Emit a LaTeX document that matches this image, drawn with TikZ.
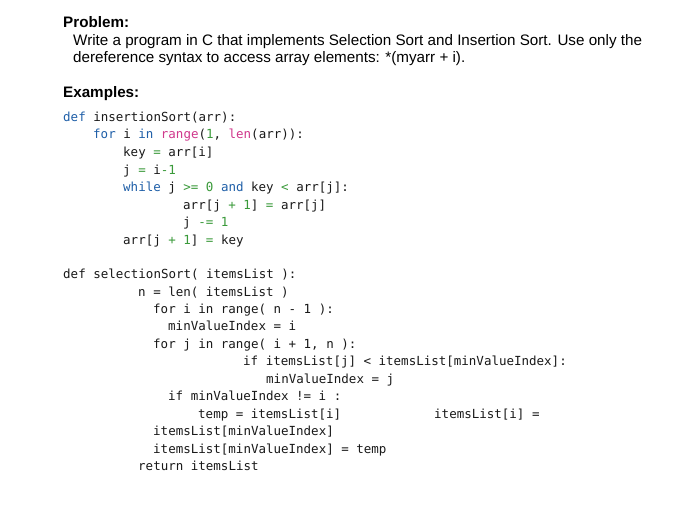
\documentclass[tikz,border=0pt]{standalone}
\usepackage{fontspec}
\setmainfont{Liberation Sans}
\setmonofont{DejaVu Sans Mono}
\definecolor{kw}{HTML}{1F5FA8}
\definecolor{fn}{HTML}{D0388C}
\definecolor{num}{HTML}{3A9A3A}
\newcommand{\K}[1]{\textcolor{kw}{#1}}
\newcommand{\F}[1]{\textcolor{fn}{#1}}
\newcommand{\N}[1]{\textcolor{num}{#1}}
\tikzset{tx/.style={anchor=base west,inner sep=0pt,font=\fontsize{15.2}{17}\selectfont},
cd/.style={anchor=base west,inner sep=0pt,font=\ttfamily\fontsize{12.5}{14}\selectfont,text=black!90}}
\begin{document}
\begin{tikzpicture}[x=1pt,y=-1pt]
\useasboundingbox[fill=white] (0,0) rectangle (700,505);
\node[tx,font=\bfseries\fontsize{15.2}{17}\selectfont] (p) at (63,28) {Problem:};
\node[tx] (w1) at (73,46) {Write a program in C that implements Selection Sort and Insertion Sort. Use only the};
\node[tx] (w2) at (73,63) {dereference syntax to access array elements: *(myarr + i).};
\node[tx,font=\bfseries\fontsize{15.2}{17}\selectfont] (ex) at (63,98) {Examples:};
\node[cd] (a1) at (63,122) {\K{def} insertionSort(arr):};
\node[cd] (a2) at (93,139) {\K{for} i \K{in} \F{range}(\N{1}, \F{len}(arr)):};
\node[cd] (a3) at (123,157) {key \N{=} arr[i]};
\node[cd] (a4) at (123,174) {j \N{=} i\N{-1}};
\node[cd] (a5) at (123,191) {\K{while} j \N{>=} \N{0} \K{and} key \N{<} arr[j]:};
\node[cd] (a6) at (183,209) {arr[j \N{+} \N{1}] \N{=} arr[j]};
\node[cd] (a7) at (183,226) {j \N{-=} \N{1}};
\node[cd] (a8) at (123,244) {arr[j \N{+} \N{1}] \N{=} key};
\node[cd] (b1) at (63,278) {def selectionSort( itemsList ):};
\node[cd] (b2) at (138,296) {n = len( itemsList )};
\node[cd] (b3) at (153,313) {for i in range( n - 1 ):};
\node[cd] (b4) at (168,330) {minValueIndex = i};
\node[cd] (b5) at (153,348) {for j in range( i + 1, n ):};
\node[cd] (b6) at (243,365) {if itemsList[j] < itemsList[minValueIndex]:};
\node[cd] (b7) at (266,383) {minValueIndex = j};
\node[cd] (b8) at (168,400) {if minValueIndex != i :};
\node[cd] (b9) at (198,418) {temp = itemsList[i]};
\node[cd] (b9b) at (434,418) {itemsList[i] =};
\node[cd] (b10) at (153,435) {itemsList[minValueIndex]};
\node[cd] (b11) at (153,453) {itemsList[minValueIndex] = temp};
\node[cd] (b12) at (138,470) {return itemsList};
\end{tikzpicture}
\end{document}
